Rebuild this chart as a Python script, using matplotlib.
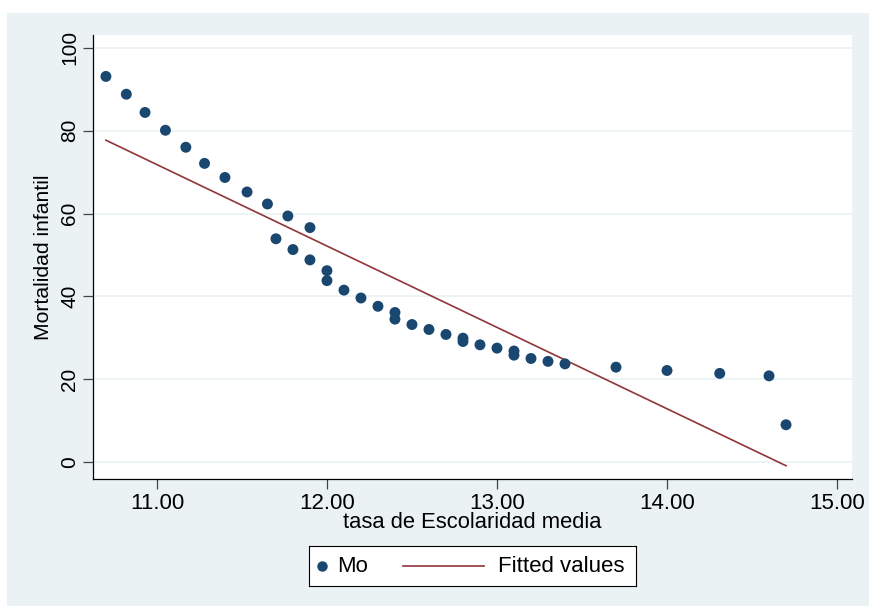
import numpy as np
import matplotlib
matplotlib.use('Agg')
import matplotlib.pyplot as plt
from matplotlib.patches import Rectangle

# data
escolaridad = [10.70, 10.82, 10.93, 11.05, 11.17, 11.28, 11.40, 11.53, 11.65,
               11.77, 11.90, 11.70, 11.80, 11.90, 12.00, 12.00, 12.10, 12.20,
               12.30, 12.40, 12.40, 12.50, 12.60, 12.70, 12.80, 12.80, 12.90,
               13.00, 13.10, 13.10, 13.20, 13.30, 13.40, 13.70, 14.00, 14.31,
               14.60, 14.70]
mortalidad = [93.1, 88.8, 84.4, 80.1, 76.0, 72.1, 68.7, 65.2, 62.3,
              59.4, 56.6, 53.9, 51.3, 48.8, 46.2, 43.8, 41.5, 39.6,
              37.6, 36.1, 34.5, 33.2, 32.0, 30.8, 29.9, 29.1, 28.3,
              27.5, 26.8, 25.8, 25.0, 24.3, 23.7, 22.9, 22.1, 21.4,
              20.8, 9.0]
fit_x = [10.70, 14.70]
fit_y = [77.7, -0.9]

xticks = [11, 12, 13, 14, 15]
yticks = [0, 20, 40, 60, 80, 100]
legend_labels = ['Mo', 'Fitted values']

NAVY, MAROON, BG = '#1a476f', '#90353b', '#eaf2f3'
plt.rcParams['font.family'] = ['Liberation Sans', 'DejaVu Sans']

W, H = 869, 606
fig = plt.figure(figsize=(W / 100, H / 100), dpi=100)
fig.patch.set_facecolor('white')
fig.patches.append(Rectangle((7 / W, 0.0), 1.0, 1 - 13 / H,
                             transform=fig.transFigure, facecolor=BG,
                             edgecolor='none', zorder=-10))

ax = fig.add_axes([93 / W, 1 - 479 / H, (852 - 93) / W, (479 - 35) / H])
ax.set_facecolor('white')
for s in ['top', 'right']:
    ax.spines[s].set_visible(False)
for s in ['left', 'bottom']:
    ax.spines[s].set_color('black')
    ax.spines[s].set_linewidth(0.9)

ax.scatter(escolaridad, mortalidad, s=62, color=NAVY, edgecolors='none',
           zorder=3)
ax.plot(fit_x, fit_y, color=MAROON, lw=1.2, zorder=2)

ax.set_xlim(10.624, 15.088)
ax.set_ylim(-4.1, 103.1)
ax.set_xticks(xticks)
ax.set_xticklabels([f'{v:.2f}' for v in xticks], fontsize=16)
ax.set_yticks(yticks)
ax.set_yticklabels([str(v) for v in yticks], rotation=90, va='center',
                   fontsize=15)
ax.grid(True, axis='y', color=BG, lw=1.2, zorder=0)
ax.tick_params(length=7, width=0.9, color='#444444', pad=3)

ax.set_xlabel('tasa de Escolaridad media', fontsize=15.8, labelpad=-1)
ax.set_ylabel('Mortalidad infantil', fontsize=15.2, labelpad=5)

# legend box drawn by hand (Stata style: marker sits close to its label)
lg = fig.add_axes([308.6 / W, 1 - 586 / H, 327 / W, 40 / H])
lg.set_xlim(0, 327)
lg.set_ylim(0, 40)
lg.set_xticks([])
lg.set_yticks([])
for s in lg.spines.values():
    s.set_linewidth(0.8)
    s.set_color('black')
lg.plot([13.4], [20], 'o', ms=6.5, color=NAVY)
lg.text(28.4, 19.5, legend_labels[0], fontsize=16, va='center')
lg.plot([94.4, 175.4], [20, 20], color=MAROON, lw=1.2)
lg.text(189.4, 19.5, legend_labels[1], fontsize=16, va='center')

fig.savefig('out.png', dpi=100, facecolor=fig.get_facecolor())
